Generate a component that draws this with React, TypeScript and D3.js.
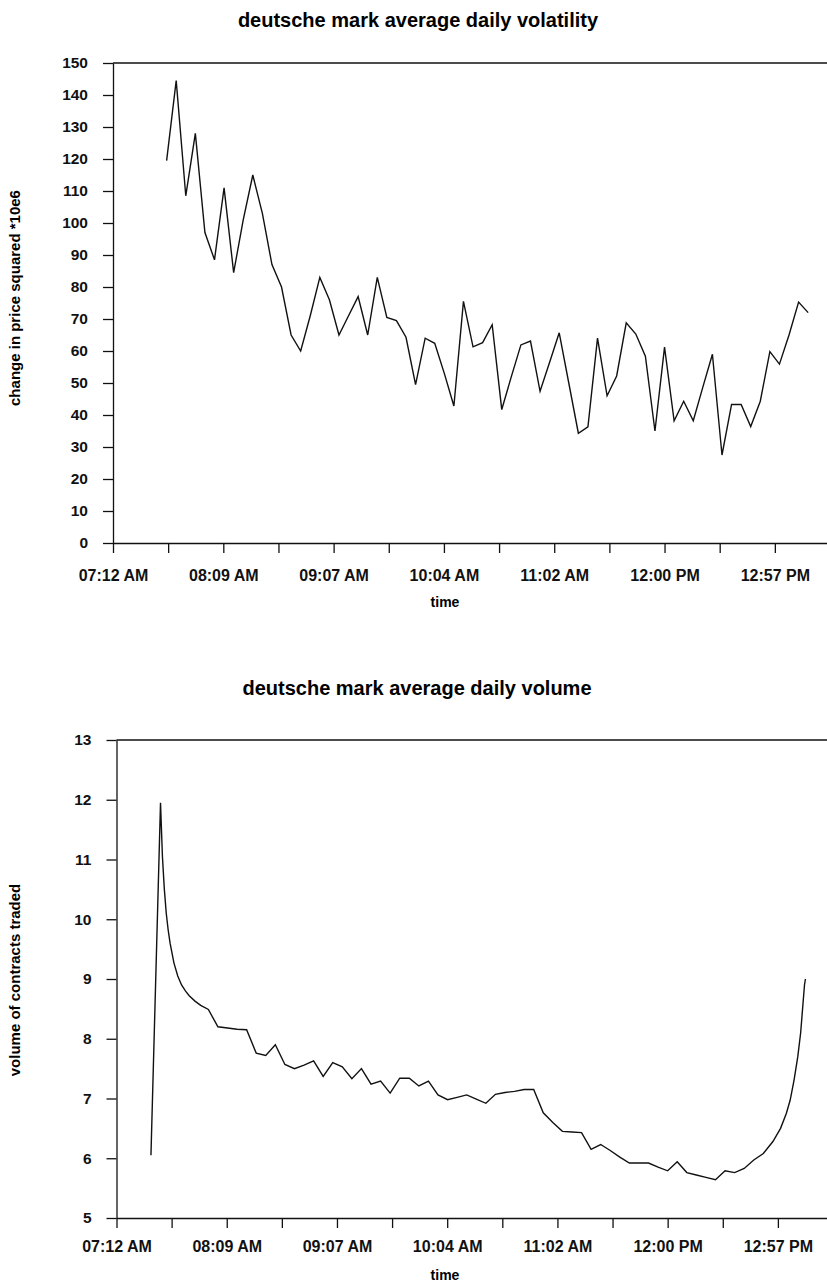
import React, { useEffect, useRef } from "react"
import * as d3 from "d3"

// volatility: one reading every 5 minutes, starting 07:40
const volatilityStart = 460 // minutes after midnight
const volatilityStep = 5
const volatility = [
  119.5, 144.5, 108.5, 128, 97, 88.5, 111, 84.5, 101, 115,
  103, 87, 80, 65, 60, 71, 83, 76, 65, 71,
  77, 65, 83, 70.5, 69.5, 64.3, 49.5, 64, 62.4, 53,
  42.8, 75.5, 61.3, 62.6, 68.2, 41.7, 52, 61.9, 63.1, 47.4,
  56.5, 65.7, 50, 34.3, 36.3, 64, 46, 52.2, 68.8, 65.3,
  58.4, 35, 61.2, 38.2, 44.3, 38.2, 48.7, 59, 27.5, 43.3,
  43.3, 36.4, 44.3, 59.8, 55.9, 65, 75.3, 72,
]

// volume: minutes after midnight and contracts traded
const volumeMinutes = [
  450, 455, 456, 457, 458, 459, 460, 462, 464, 466, 468, 470, 473, 476, 480,
  485, 490, 495, 500, 505, 510, 515, 520, 525, 530, 535, 540, 545, 550, 555,
  560, 565, 570, 575, 580, 585, 590, 595, 600, 605, 610, 615, 620, 625, 630,
  635, 640, 645, 650, 655, 660, 665, 670, 675, 680, 685, 690, 695, 700, 705,
  710, 715, 720, 725, 730, 735, 740, 745, 750, 755, 760, 765, 770, 775, 779,
  782, 784, 786, 788, 789.5, 790.5, 791.5, 792,
]
const volumeValues = [
  6.05, 11.95, 11.05, 10.5, 10.1, 9.82, 9.6, 9.27, 9.05, 8.9, 8.8, 8.72, 8.63, 8.56, 8.49,
  8.2, 8.18, 8.16, 8.15, 7.76, 7.72, 7.9, 7.57, 7.5, 7.56, 7.63, 7.37, 7.6, 7.53, 7.33,
  7.5, 7.24, 7.29, 7.09, 7.34, 7.34, 7.21, 7.29, 7.06, 6.98, 7.02, 7.06, 6.99, 6.92, 7.07,
  7.1, 7.12, 7.15, 7.15, 6.76, 6.6, 6.45, 6.44, 6.43, 6.15, 6.23, 6.13, 6.02, 5.92, 5.92,
  5.92, 5.85, 5.79, 5.94, 5.76, 5.72, 5.68, 5.64, 5.79, 5.76, 5.83, 5.97, 6.08, 6.28, 6.5,
  6.75, 6.97, 7.3, 7.7, 8.1, 8.5, 8.9, 9.0,
]

// x axis runs 0.30 .. 0.56 of a day, tick every 0.02 day, label every 0.04
const dayStart = 432
const dayEnd = 806.4
const tickStep = 28.8

const fmtTime = (m: number) => {
  let h = Math.floor(m / 60)
  const mm = Math.floor(m % 60)
  const ap = h >= 12 ? "PM" : "AM"
  if (h > 12) h -= 12
  return (h < 10 ? "0" + h : "" + h) + ":" + (mm < 10 ? "0" + mm : "" + mm) + " " + ap
}

const FONT = "'Liberation Sans', Arial, Helvetica, sans-serif"

function drawPanel(svg: any, o: any) {
  const x = d3.scaleLinear().domain([dayStart, dayEnd]).range([o.left, o.right])
  const y = d3.scaleLinear().domain(o.yDomain).range([o.bottom, o.top])

  const g = svg.append("g")

  // title
  g.append("text")
    .attr("x", o.titleX)
    .attr("y", o.titleY)
    .attr("text-anchor", "middle")
    .style("font-family", FONT)
    .style("font-weight", "bold")
    .style("font-size", "20px")
    .text(o.title)

  // frame top line
  g.append("line")
    .attr("x1", o.left).attr("x2", o.right)
    .attr("y1", o.top).attr("y2", o.top)
    .attr("stroke", "#111").attr("stroke-width", 1.3)

  const ticks = d3.range(0, 14).map(i => dayStart + i * tickStep)
  const xAxis = d3.axisBottom(x)
    .tickValues(ticks)
    .tickSizeInner(10)
    .tickSizeOuter(0)
    .tickPadding(o.xPad)
    .tickFormat((d: any, i: number) => (i % 2 === 0 ? fmtTime(d) : ""))

  const gx = g.append("g")
    .attr("transform", "translate(0," + o.bottom + ")")
    .style("font-family", FONT)
    .style("font-weight", "bold")
    .style("font-size", "16px")
    .call(xAxis)

  const yAxis = d3.axisLeft(y)
    .tickValues(o.yTicks)
    .tickSizeInner(10)
    .tickSizeOuter(0)
    .tickPadding(15)
    .tickFormat(d3.format("d"))

  const gy = g.append("g")
    .attr("transform", "translate(" + o.left + ",0)")
    .style("font-family", FONT)
    .style("font-weight", "bold")
    .style("font-size", "15.5px")
    .call(yAxis)

  ;[gx, gy].forEach(a => {
    a.select(".domain").attr("stroke", "#111").attr("stroke-width", 1.3)
    a.selectAll(".tick line").attr("stroke", "#111").attr("stroke-width", 1.3)
    a.selectAll(".tick text").attr("fill", "#111")
  })

  // axis titles
  g.append("text")
    .attr("x", 445)
    .attr("y", o.timeY)
    .attr("text-anchor", "middle")
    .style("font-family", FONT)
    .style("font-weight", "bold")
    .style("font-size", "14px")
    .text("time")

  g.append("text")
    .attr("transform", "translate(" + o.yLabelX + "," + o.yLabelY + ") rotate(-90)")
    .attr("text-anchor", "middle")
    .style("font-family", FONT)
    .style("font-weight", "bold")
    .style("font-size", "15px")
    .text(o.yLabel)

  const line = d3.line<[number, number]>()
    .x(d => x(d[0]))
    .y(d => y(d[1]))

  g.append("path")
    .datum(o.points)
    .attr("d", line)
    .attr("fill", "none")
    .attr("stroke", "#111")
    .attr("stroke-width", 1.4)
    .attr("stroke-linejoin", "miter")
}

export default function App() {
  const ref = useRef<SVGSVGElement>(null)

  useEffect(() => {
    const svg = d3.select(ref.current)
    svg.selectAll("*").remove()

    const volPoints = volatility.map((v, i) => [volatilityStart + i * volatilityStep, v])
    drawPanel(svg, {
      left: 113, right: 830, top: 63, bottom: 543,
      yDomain: [0, 150],
      yTicks: d3.range(0, 151, 10),
      title: "deutsche mark average daily volatility",
      titleX: 418, titleY: 27,
      yLabel: "change in price squared *10e6",
      yLabelX: 20, yLabelY: 298,
      xPad: 17, timeY: 607,
      points: volPoints,
    })

    const qtyPoints = volumeMinutes.map((m, i) => [m, volumeValues[i]])
    drawPanel(svg, {
      left: 116.5, right: 833, top: 740, bottom: 1218,
      yDomain: [5, 13],
      yTicks: d3.range(5, 14, 1),
      title: "deutsche mark average daily volume",
      titleX: 417, titleY: 695,
      yLabel: "volume of contracts traded",
      yLabelX: 20, yLabelY: 980,
      xPad: 13, timeY: 1280,
      points: qtyPoints,
    })
  }, [])

  return (
    <svg
      ref={ref}
      width={827}
      height={1286}
      style={{ position: "absolute", left: 0, top: 0, background: "#fff" }}
    />
  )
}
